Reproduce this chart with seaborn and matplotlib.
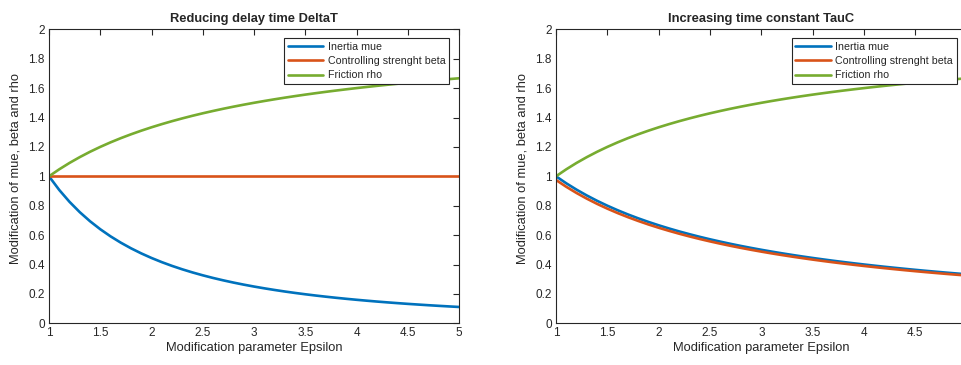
import numpy as np
import pandas as pd
import seaborn as sns
import matplotlib.pyplot as plt

# epsilon grid and curves
epsilon = [1.0, 1.1, 1.2, 1.3, 1.4, 1.5, 1.6, 1.7, 1.8, 1.9, 2.0,
           2.1, 2.2, 2.3, 2.4, 2.5, 2.6, 2.7, 2.8, 2.9, 3.0,
           3.1, 3.2, 3.3, 3.4, 3.5, 3.6, 3.7, 3.8, 3.9, 4.0,
           4.1, 4.2, 4.3, 4.4, 4.5, 4.6, 4.7, 4.8, 4.9, 5.0]

# left panel: reducing delay time
mue_delay = [1.0, 0.907, 0.8264, 0.7561, 0.6944, 0.64, 0.5917, 0.5487, 0.5102, 0.4756, 0.4444,
             0.4162, 0.3906, 0.3673, 0.346, 0.3265, 0.3086, 0.2922, 0.277, 0.263, 0.25,
             0.238, 0.2268, 0.2163, 0.2066, 0.1975, 0.189, 0.1811, 0.1736, 0.1666, 0.16,
             0.1538, 0.1479, 0.1424, 0.1372, 0.1322, 0.1276, 0.1231, 0.1189, 0.1149, 0.1111]
beta_delay = [1.0] * 41
rho_delay = [1.0, 1.0476, 1.0909, 1.1304, 1.1667, 1.2, 1.2308, 1.2593, 1.2857, 1.3103, 1.3333,
             1.3548, 1.375, 1.3939, 1.4118, 1.4286, 1.4444, 1.4595, 1.4737, 1.4872, 1.5,
             1.5122, 1.5238, 1.5349, 1.5455, 1.5556, 1.5652, 1.5745, 1.5833, 1.5918, 1.6,
             1.6078, 1.6154, 1.6226, 1.6296, 1.6364, 1.6429, 1.6491, 1.6552, 1.661, 1.6667]

# right panel: increasing time constant
mue_tau = [1.0, 0.9524, 0.9091, 0.8696, 0.8333, 0.8, 0.7692, 0.7407, 0.7143, 0.6897, 0.6667,
           0.6452, 0.625, 0.6061, 0.5882, 0.5714, 0.5556, 0.5405, 0.5263, 0.5128, 0.5,
           0.4878, 0.4762, 0.4651, 0.4545, 0.4444, 0.4348, 0.4255, 0.4167, 0.4082, 0.4,
           0.3922, 0.3846, 0.3774, 0.3704, 0.3636, 0.3571, 0.3509, 0.3448, 0.339, 0.3333]
beta_tau = [0.975, 0.9286, 0.8864, 0.8479, 0.8125, 0.78, 0.75, 0.7222, 0.6964, 0.6724, 0.65,
            0.6291, 0.6094, 0.5909, 0.5735, 0.5571, 0.5417, 0.527, 0.5131, 0.5, 0.4875,
            0.4756, 0.4643, 0.4535, 0.4432, 0.4333, 0.4239, 0.4149, 0.4063, 0.398, 0.39,
            0.3824, 0.375, 0.368, 0.3611, 0.3545, 0.3482, 0.3421, 0.3362, 0.3305, 0.325]
rho_tau = rho_delay

labels = ['Inertia mue', 'Controlling strenght beta', 'Friction rho']
colors = ['#0072BD', '#D95319', '#77AC30']
titles = ['Reducing delay time DeltaT', 'Increasing time constant TauC']

sns.set_style('white')
plt.rcParams['font.family'] = ['Liberation Sans', 'DejaVu Sans']

fig = plt.figure(figsize=(9.62, 3.65), dpi=100)
ax1 = fig.add_axes([49 / 962, 41.7 / 365, 410 / 962, 294 / 365])
ax2 = fig.add_axes([556 / 962, 41.7 / 365, 410.7 / 962, 294 / 365])

panels = [(ax1, [mue_delay, beta_delay, rho_delay]),
          (ax2, [mue_tau, beta_tau, rho_tau])]

for (ax, series), title in zip(panels, titles):
    for vals, lab, col in zip(series, labels, colors):
        sns.lineplot(x=epsilon, y=vals, ax=ax, color=col, linewidth=1.9, label=lab)
    ax.set_xlim(1, 5)
    ax.set_ylim(0, 2)
    ax.set_xticks(np.arange(1, 5.01, 0.5))
    ax.set_xticklabels(['1', '1.5', '2', '2.5', '3', '3.5', '4', '4.5', '5'])
    ax.set_yticks(np.arange(0, 2.01, 0.2))
    ax.set_yticklabels(['0', '0.2', '0.4', '0.6', '0.8', '1', '1.2', '1.4', '1.6', '1.8', '2'])
    ax.tick_params(direction='in', length=4, width=0.8, labelsize=8.5,
                   colors='#262626', top=True, right=True, pad=3)
    for sp in ax.spines.values():
        sp.set_color('#262626')
        sp.set_linewidth(0.8)
    ax.set_title(title, fontsize=9.3, fontweight='bold', pad=5)
    ax.set_xlabel('Modification parameter Epsilon', fontsize=9.3, color='#262626', labelpad=2)
    ax.set_ylabel('Modification of mue, beta and rho', fontsize=9.3, color='#262626')
    ax.yaxis.set_label_coords(-0.068, 0.525)
    leg = ax.legend(loc='upper right', bbox_to_anchor=(0.976, 0.969), borderaxespad=0,
                    fontsize=7.7, frameon=True, fancybox=False, framealpha=1,
                    edgecolor='#262626', handlelength=3.3, borderpad=0.35,
                    labelspacing=0.38, handletextpad=0.45)
    leg.get_frame().set_linewidth(0.8)

ax2.set_xticks(np.arange(1, 4.51, 0.5))
ax2.set_xticklabels(['1', '1.5', '2', '2.5', '3', '3.5', '4', '4.5'])

fig.savefig('out.png', dpi=100)
